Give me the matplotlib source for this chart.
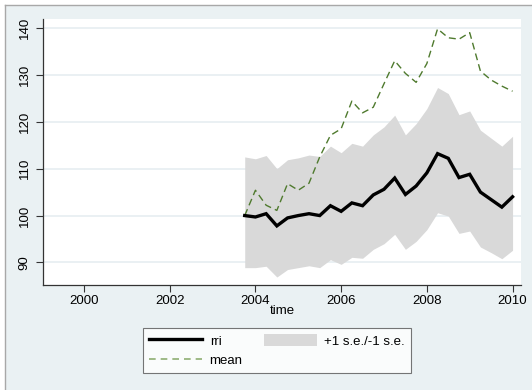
import numpy as np
import matplotlib.pyplot as plt
from matplotlib.patches import Rectangle, Patch
from matplotlib.lines import Line2D

plt.rcParams['font.family'] = ['Liberation Sans', 'DejaVu Sans']

# quarterly observations, 2003q4 .. 2010q1
time = [2003.75, 2004.00, 2004.25, 2004.50, 2004.75, 2005.00, 2005.25, 2005.50,
        2005.75, 2006.00, 2006.25, 2006.50, 2006.75, 2007.00, 2007.25, 2007.50,
        2007.75, 2008.00, 2008.25, 2008.50, 2008.75, 2009.00, 2009.25, 2009.50,
        2009.75, 2010.00]
rri = [100.0, 99.7, 100.4, 97.8, 99.5, 100.0, 100.4, 100.0,
       102.1, 100.9, 102.7, 102.1, 104.4, 105.6, 108.0, 104.5,
       106.3, 109.1, 113.2, 112.2, 108.1, 108.8, 105.0, 103.4,
       101.8, 104.0]
se_upper = [112.5, 112.1, 112.8, 110.0, 111.9, 112.3, 112.9, 112.6,
            114.8, 113.4, 115.4, 114.8, 117.2, 118.9, 121.4, 117.2,
            119.6, 122.8, 127.3, 126.0, 121.5, 122.3, 118.2, 116.5,
            114.8, 116.9]
se_lower = [88.9, 88.9, 89.2, 86.9, 88.5, 88.9, 89.3, 88.9,
            90.6, 89.6, 91.1, 90.9, 92.8, 94.0, 96.0, 92.8,
            94.5, 97.0, 100.6, 99.9, 96.2, 96.7, 93.3, 92.1,
            90.8, 92.6]
mean = [100.0, 105.4, 102.2, 101.1, 106.8, 105.4, 106.9, 112.5,
        117.1, 118.5, 124.4, 121.9, 123.1, 128.1, 133.0, 130.3,
        128.4, 132.4, 139.8, 137.9, 137.6, 139.0, 130.8, 128.9,
        127.6, 126.5]

xticks = [2000, 2002, 2004, 2006, 2008, 2010]
yticks = [90, 100, 110, 120, 130, 140]

W, H = 532, 390
BG = '#eaf1f3'
GRID = '#e6eef1'

fig = plt.figure(figsize=(W / 100, H / 100), dpi=100)
fig.patch.set_facecolor('white')

# graph region background with a thin border on top and left
fig.patches.append(Rectangle((4.5 / W, 0), 1, 1 - 5 / H, transform=fig.transFigure,
                             facecolor=BG, edgecolor='none', zorder=-10))
fig.add_artist(Line2D([4.5 / W, 4.5 / W], [0, 1 - 5 / H], transform=fig.transFigure,
                      color='#a8a8a8', lw=1.0))
fig.add_artist(Line2D([4.5 / W, 1], [1 - 5 / H, 1 - 5 / H], transform=fig.transFigure,
                      color='#a8a8a8', lw=1.0))

ax = fig.add_axes([43.3 / W, 1 - 285 / H, (520.7 - 43.3) / W, (285 - 19) / H])
ax.set_facecolor('white')

ax.fill_between(time, se_lower, se_upper, color='#d9d9d9', linewidth=0, zorder=2)
ax.plot(time, rri, color='black', lw=2.4, solid_joinstyle='miter', zorder=4)
ax.plot(time, mean, color='#4f7a2e', lw=1.0, dashes=(5, 3), zorder=3)

ax.set_xlim(1999.05, 2010.19)
ax.set_ylim(85.2, 141.9)
ax.set_xticks(xticks)
ax.set_yticks(yticks)
ax.grid(axis='y', color=GRID, lw=1.2, zorder=1)
ax.set_axisbelow(True)

for s in ('top', 'right'):
    ax.spines[s].set_visible(False)
for s in ('left', 'bottom'):
    ax.spines[s].set_color('#333333')
    ax.spines[s].set_linewidth(0.9)

ax.tick_params(axis='both', colors='#333333', length=5, width=0.8, labelsize=9.5,
               labelcolor='black')
ax.tick_params(axis='x', pad=2)
ax.tick_params(axis='y', pad=4)
for lab in ax.get_yticklabels():
    lab.set_rotation(90)
    lab.set_va('center')

ax.set_xlabel('time', fontsize=9.5, labelpad=-1)

handles = [Line2D([], [], color='black', lw=2.4),
           Line2D([], [], color='#8fae72', lw=1.2, dashes=(4, 3)),
           Patch(facecolor='#d9d9d9', edgecolor='none')]
labels = ['rri', 'mean', '+1 s.e./-1 s.e.']
leg = fig.legend(handles, labels, ncol=2, loc='upper center',
                 bbox_to_anchor=(277 / W, 1 - 328.3 / H), fontsize=9.5,
                 frameon=True, fancybox=False, edgecolor='#555555',
                 handlelength=4.0, handleheight=1.0, handletextpad=0.6,
                 columnspacing=1.6, labelspacing=0.45, borderpad=0.45,
                 borderaxespad=0)
leg.get_frame().set_linewidth(0.8)
leg.get_frame().set_facecolor('white')

fig.savefig('out.png', dpi=100)
